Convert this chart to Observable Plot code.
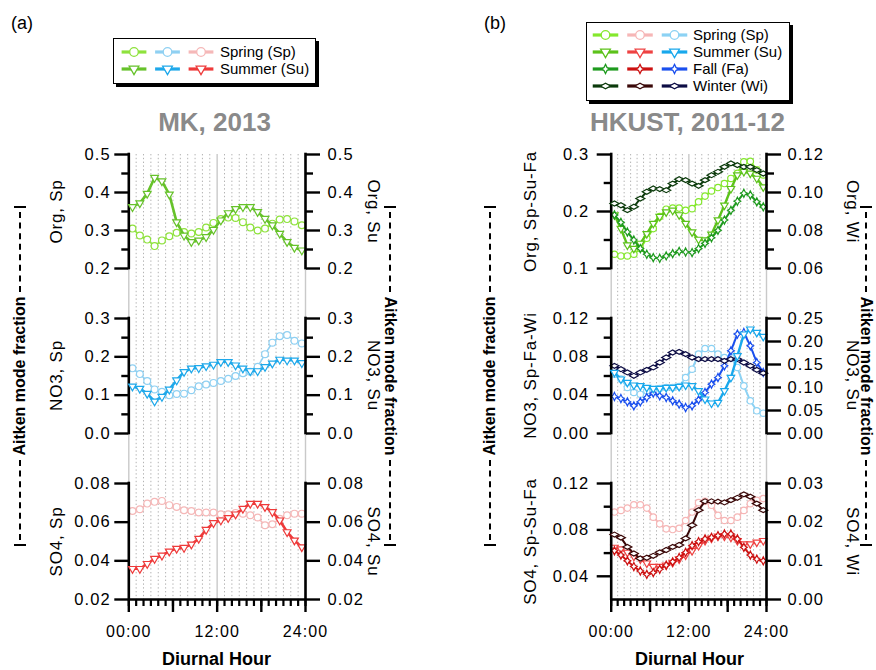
<!DOCTYPE html>
<html><head><meta charset="utf-8">
<script src="https://cdn.jsdelivr.net/npm/d3@7"></script>
<script src="https://cdn.jsdelivr.net/npm/@observablehq/plot@0.6"></script>
<style>
body{margin:0;background:#fff}
#root{position:relative;width:876px;height:670px;overflow:hidden;font-family:"Liberation Sans",Arial,Helvetica,sans-serif;color:#000;background:#fff}
.t{position:absolute;white-space:nowrap}
.legend{position:absolute;border:1.6px solid #000;box-shadow:3px 3px 0 #000;background:#fff;box-sizing:border-box}
.big{position:absolute;display:flex;align-items:center;font-weight:bold;font-size:16px;white-space:nowrap}
.big .bar{width:2px;height:12px;background:#000}
.big .dash{flex:1;border-top:2px dashed #000;margin:0 4px}
</style></head>
<body><div id="root"></div>
<script>
// ---------- data ----------
const hours = [0.5,1.5,2.5,3.5,4.5,5.5,6.5,7.5,8.5,9.5,10.5,11.5,12.5,13.5,14.5,15.5,16.5,17.5,18.5,19.5,20.5,21.5,22.5,23.5];
const hourTicks = [0,1,2,3,4,5,6,7,8,9,10,11,12,13,14,15,16,17,18,19,20,21,22,23,24];
const majorHourTicks = [0,6,12,18,24];
const solidGrid = [0,12,24];
const dottedGrid = [1,2,3,4,5,6,7,8,9,10,11,13,14,15,16,17,18,19,20,21,22,23];
const hourLabelTicks = [0,12,24];
const hourLabels = ["00:00","12:00","24:00"];
const seasonLabelsA = ["Spring (Sp)","Summer (Su)"];
const seasonLabelsB = ["Spring (Sp)","Summer (Su)","Fall (Fa)","Winter (Wi)"];

// Panel (a) MK 2013
const a_org_sp = [0.305,0.287,0.276,0.259,0.274,0.285,0.294,0.296,0.292,0.296,0.308,0.320,0.330,0.334,0.333,0.322,0.308,0.300,0.305,0.318,0.329,0.330,0.324,0.314];
const a_org_su = [0.362,0.372,0.397,0.439,0.430,0.395,0.322,0.287,0.270,0.274,0.283,0.302,0.327,0.346,0.357,0.362,0.362,0.349,0.331,0.314,0.292,0.270,0.255,0.248];
const a_no3_sp = [0.170,0.155,0.137,0.115,0.109,0.100,0.103,0.104,0.113,0.123,0.128,0.132,0.137,0.143,0.150,0.157,0.161,0.174,0.207,0.237,0.254,0.257,0.242,0.235];
const a_no3_su = [0.123,0.117,0.104,0.084,0.096,0.115,0.139,0.161,0.170,0.171,0.176,0.180,0.187,0.187,0.178,0.170,0.163,0.163,0.174,0.183,0.193,0.191,0.191,0.184];
const a_so4_sp = [0.0658,0.0667,0.0696,0.0705,0.0710,0.0688,0.0679,0.0662,0.0658,0.0650,0.0650,0.0650,0.0641,0.0641,0.0648,0.0644,0.0636,0.0624,0.0584,0.0589,0.0618,0.0636,0.0644,0.0644];
const a_so4_su = [0.0359,0.0359,0.0385,0.0411,0.0428,0.0449,0.0463,0.0468,0.0485,0.0515,0.0561,0.0596,0.0610,0.0622,0.0641,0.0670,0.0696,0.0696,0.0679,0.0653,0.0610,0.0549,0.0506,0.0471];

// Panel (b) HKUST 2011-12
const b_org_sp = [0.125,0.122,0.122,0.125,0.135,0.153,0.170,0.191,0.204,0.206,0.206,0.202,0.205,0.217,0.227,0.236,0.242,0.249,0.258,0.267,0.287,0.288,0.273,0.264];
const b_org_su = [0.194,0.170,0.141,0.135,0.144,0.161,0.179,0.191,0.199,0.202,0.194,0.179,0.164,0.151,0.150,0.160,0.185,0.211,0.240,0.264,0.270,0.267,0.258,0.243];
const b_org_fa = [0.194,0.181,0.164,0.150,0.135,0.125,0.119,0.118,0.122,0.126,0.130,0.129,0.128,0.135,0.144,0.154,0.167,0.185,0.202,0.218,0.232,0.229,0.217,0.208];
const b_org_wi = [0.0942,0.0933,0.0907,0.0925,0.0968,0.1004,0.1021,0.1018,0.1012,0.1047,0.1070,0.1065,0.1047,0.1035,0.1065,0.1091,0.1109,0.1135,0.1153,0.1144,0.1135,0.1135,0.1118,0.1100];
const b_no3_sp = [0.0619,0.0567,0.0480,0.0428,0.0410,0.0445,0.0456,0.0470,0.0480,0.0480,0.0490,0.0584,0.0671,0.0828,0.0887,0.0887,0.0828,0.0793,0.0793,0.0689,0.0497,0.0341,0.0237,0.0212];
const b_no3_su = [0.1326,0.1181,0.1109,0.1051,0.1036,0.1000,0.0978,0.0978,0.1000,0.1000,0.1022,0.1051,0.1036,0.0928,0.0746,0.0659,0.0674,0.0928,0.1217,0.1688,0.2159,0.2268,0.2196,0.2109];
const b_no3_fa = [0.0386,0.0365,0.0330,0.0289,0.0330,0.0376,0.0421,0.0393,0.0376,0.0341,0.0306,0.0271,0.0289,0.0351,0.0428,0.0515,0.0584,0.0706,0.0863,0.1037,0.1054,0.0915,0.0741,0.0637];
const b_no3_wi = [0.0706,0.0671,0.0637,0.0602,0.0637,0.0664,0.0689,0.0741,0.0793,0.0845,0.0852,0.0828,0.0793,0.0776,0.0776,0.0776,0.0776,0.0758,0.0776,0.0776,0.0741,0.0706,0.0664,0.0630];
const b_so4_sp = [0.0954,0.0968,0.0988,0.1017,0.1017,0.0988,0.0910,0.0852,0.0809,0.0803,0.0814,0.0881,0.0954,0.1035,0.1046,0.1012,0.0925,0.0881,0.0881,0.0910,0.0968,0.1026,0.1055,0.1070];
const b_so4_su = [0.0649,0.0635,0.0606,0.0571,0.0548,0.0513,0.0484,0.0484,0.0496,0.0519,0.0548,0.0583,0.0620,0.0664,0.0707,0.0728,0.0745,0.0745,0.0736,0.0707,0.0678,0.0678,0.0693,0.0707];
const b_so4_fa = [0.0620,0.0583,0.0533,0.0484,0.0446,0.0417,0.0432,0.0461,0.0496,0.0525,0.0562,0.0606,0.0664,0.0699,0.0722,0.0736,0.0751,0.0765,0.0765,0.0722,0.0649,0.0583,0.0548,0.0533];
const b_so4_wi = [0.0168,0.0160,0.0136,0.0119,0.0106,0.0108,0.0113,0.0122,0.0128,0.0136,0.0141,0.0158,0.0192,0.0231,0.0254,0.0254,0.0253,0.0251,0.0257,0.0263,0.0272,0.0266,0.0248,0.0231];

// ---------- styles ----------
const C = {
  aGreenSp:"#8ee23c", aGreenSu:"#66c22a", aBlueSp:"#8fd0f2", aBlueSu:"#1ea8ea", aRedSp:"#f5b8b8", aRedSu:"#ee3a3a",
  gSp:"#84e82c", gSu:"#5cc21a", gFa:"#1e9a1e", gWi:"#0b3a0b",
  rSp:"#f6b6b6", rSu:"#ee4242", rFa:"#cc1111", rWi:"#3a0808",
  bSp:"#8cd2f4", bSu:"#18a8ec", bFa:"#1a4fee", bWi:"#0c0c44"
};
const star4 = {draw(ctx, size){ const r=Math.sqrt(size/Math.PI); const v=1.45*r, h=1.2*r, k=0.48*r;
  ctx.moveTo(0,-v); ctx.lineTo(k,-k); ctx.lineTo(h,0); ctx.lineTo(k,k); ctx.lineTo(0,v); ctx.lineTo(-k,k); ctx.lineTo(-h,0); ctx.lineTo(-k,-k); ctx.closePath(); }};
const wideDiamond = {draw(ctx, size){ const r=Math.sqrt(size/Math.PI); const h=1.55*r, v=0.85*r;
  ctx.moveTo(-h,0); ctx.lineTo(0,-v); ctx.lineTo(h,0); ctx.lineTo(0,v); ctx.closePath(); }};
const SYM = {
  Sp:{symbol:"circle", r:3.4, rotate:0},
  Su:{symbol:"triangle", r:2.9, rotate:180},
  Fa:{symbol:star4, r:2.9, rotate:0},
  Wi:{symbol:wideDiamond, r:3.0, rotate:0}
};
const SYMB = {
  Sp:{symbol:"circle", r:3.2, rotate:0},
  Su:{symbol:"triangle", r:2.8, rotate:180},
  Fa:{symbol:star4, r:2.8, rotate:0},
  Wi:{symbol:wideDiamond, r:2.9, rotate:0}
};

const fmt1 = d3.format(".1f"), fmt2 = d3.format(".2f");
const panels = [
  { xl:128.3, xr:305, padL:4, padR:8, sym:SYM,
    subs:[
      {top:154, bottom:268,
        left:{domain:[0.2,0.5], major:[0.2,0.3,0.4,0.5], minor:[0.25,0.35,0.45], fmt:fmt1, series:[{vals:a_org_sp,color:C.aGreenSp,s:"Sp",lw:1.6}]},
        right:{domain:[0.2,0.5], major:[0.2,0.3,0.4,0.5], minor:[0.25,0.35,0.45], fmt:fmt1, series:[{vals:a_org_su,color:C.aGreenSu,s:"Su",lw:2.6}]}},
      {top:318, bottom:433,
        left:{domain:[0,0.3], major:[0,0.1,0.2,0.3], minor:[0.05,0.15,0.25], fmt:fmt1, series:[{vals:a_no3_sp,color:C.aBlueSp,s:"Sp",lw:1.6}]},
        right:{domain:[0,0.3], major:[0,0.1,0.2,0.3], minor:[0.05,0.15,0.25], fmt:fmt1, series:[{vals:a_no3_su,color:C.aBlueSu,s:"Su",lw:2.6}]}},
      {top:483, bottom:599,
        left:{domain:[0.02,0.08], major:[0.02,0.04,0.06,0.08], minor:[], fmt:fmt2, series:[{vals:a_so4_sp,color:C.aRedSp,s:"Sp",lw:1.6}]},
        right:{domain:[0.02,0.08], major:[0.02,0.04,0.06,0.08], minor:[], fmt:fmt2, series:[{vals:a_so4_su,color:C.aRedSu,s:"Su",lw:2.6}]}}
    ]},
  { xl:610.7, xr:766, padL:8, padR:7, sym:SYMB,
    subs:[
      {top:154, bottom:268,
        left:{domain:[0.1,0.3], major:[0.1,0.2,0.3], minor:[0.15,0.25], fmt:fmt1, series:[
          {vals:b_org_sp,color:C.gSp,s:"Sp",lw:2},{vals:b_org_su,color:C.gSu,s:"Su",lw:2.4},{vals:b_org_fa,color:C.gFa,s:"Fa",lw:2}]},
        right:{domain:[0.06,0.12], major:[0.06,0.08,0.10,0.12], minor:[0.07,0.09,0.11], fmt:fmt2, series:[{vals:b_org_wi,color:C.gWi,s:"Wi",lw:2}]}},
      {top:318, bottom:433,
        left:{domain:[0,0.12], major:[0,0.04,0.08,0.12], minor:[0.02,0.06,0.10], fmt:fmt2, series:[
          {vals:b_no3_sp,color:C.bSp,s:"Sp",lw:2},{vals:b_no3_fa,color:C.bFa,s:"Fa",lw:2},{vals:b_no3_wi,color:C.bWi,s:"Wi",lw:2}]},
        right:{domain:[0,0.25], major:[0,0.05,0.10,0.15,0.20,0.25], minor:[], fmt:fmt2, series:[{vals:b_no3_su,color:C.bSu,s:"Su",lw:2.4}]}},
      {top:483, bottom:599,
        left:{domain:[0.02,0.12], major:[0.04,0.08,0.12], minor:[0.06,0.10], fmt:fmt2, series:[
          {vals:b_so4_sp,color:C.rSp,s:"Sp",lw:2},{vals:b_so4_su,color:C.rSu,s:"Su",lw:2.4},{vals:b_so4_fa,color:C.rFa,s:"Fa",lw:2}]},
        right:{domain:[0,0.03], major:[0,0.01,0.02,0.03], minor:[], fmt:fmt2, series:[{vals:b_so4_wi,color:C.rWi,s:"Wi",lw:2}]}}
    ]}
];

const root = document.getElementById("root");
const baseStyle = {fontFamily:'"Liberation Sans",Arial,Helvetica,sans-serif', fontSize:"16.5px", letterSpacing:"1.1px", color:"#000", background:"transparent", overflow:"visible"};

function place(svg, top){ svg.style.position="absolute"; svg.style.left="0px"; svg.style.top=top+"px"; root.append(svg); }

function backPlot(p){
  const svg = Plot.plot({
    width:876, height:670, marginTop:154, marginBottom:71, marginLeft:p.xl, marginRight:876-p.xr,
    x:{domain:[0,24]}, y:{domain:[0,1], axis:null}, style:baseStyle,
    marks:[
      Plot.ruleX(dottedGrid, {stroke:"#b3b3b3", strokeWidth:1, strokeDasharray:"1.4,2.4"}),
      Plot.ruleX(solidGrid, {stroke:"#c9c9c9", strokeWidth:1.4}),
      Plot.axisX({ticks:hourTicks, tickSize:7, tickFormat:()=>"", strokeWidth:2.2, label:null}),
      Plot.axisX({ticks:majorHourTicks, tickSize:13, tickFormat:()=>"", strokeWidth:2.4, label:null}),
      Plot.axisX({ticks:hourLabelTicks, tickSize:0, tickPadding:26, tickFormat:d=>hourLabels[hourLabelTicks.indexOf(d)], label:null, fontSize:16}),
      Plot.ruleY([0], {strokeWidth:2.6})
    ]
  });
  place(svg, 0);
}

function sidePlot(p, sub, side){
  const ax = sub[side];
  const m = 16;
  const marks = [];
  for (const s of ax.series){
    const data = hours.map((h,i)=>({h, v:s.vals[i]}));
    const sy = p.sym[s.s];
    marks.push(Plot.line(data, {x:"h", y:"v", stroke:s.color, strokeWidth:s.lw, strokeLinejoin:"round"}));
    marks.push(Plot.dot(data, {x:"h", y:"v", symbol:sy.symbol, r:sy.r, rotate:sy.rotate, stroke:s.color, fill:"white", strokeWidth:1.2}));
  }
  marks.push(Plot.ruleX([side==="left"?0:24], {y1:ax.domain[0], y2:ax.domain[1], strokeWidth:2.6, strokeLinecap:"square"}));
  if (ax.minor.length) marks.push(Plot.axisY({anchor:side, ticks:ax.minor, tickSize:7, tickFormat:()=>"", strokeWidth:2.4, label:null}));
  marks.push(Plot.axisY({anchor:side, ticks:ax.major, tickSize:14, tickPadding: side==="left"?p.padL:p.padR, tickFormat:ax.fmt, strokeWidth:2.4, label:null, fontSize:16.5}));
  const svg = Plot.plot({
    width:876, height:(sub.bottom-sub.top)+2*m, marginTop:m, marginBottom:m, marginLeft:p.xl, marginRight:876-p.xr,
    x:{domain:[0,24], axis:null}, y:{domain:ax.domain}, style:baseStyle, marks
  });
  place(svg, sub.top-m);
}

for (const p of panels){
  backPlot(p);
  for (const sub of p.subs){ sidePlot(p, sub, "left"); sidePlot(p, sub, "right"); }
}

// ---------- text helpers ----------
function text(str, x, baseline, fs, opts={}){
  const d = document.createElement("div");
  d.className = "t"; d.textContent = str;
  d.style.fontSize = fs+"px"; d.style.lineHeight = fs+"px";
  d.style.top = (baseline - 0.8465*fs)+"px";
  if (opts.anchor==="middle"){ d.style.left=(x-300)+"px"; d.style.width="600px"; d.style.textAlign="center"; }
  else d.style.left = x+"px";
  if (opts.bold) d.style.fontWeight="bold";
  if (opts.color) d.style.color = opts.color;
  root.append(d); return d;
}
function rotText(str, cx, cy, fs, deg){
  const d = document.createElement("div");
  d.className="t"; d.textContent=str;
  d.style.fontSize=fs+"px"; d.style.lineHeight=fs+"px"; d.style.letterSpacing="0.8px";
  d.style.width="300px"; d.style.textAlign="center";
  d.style.left=(cx-150)+"px"; d.style.top=(cy-fs/2)+"px";
  d.style.transform=`rotate(${deg}deg)`;
  root.append(d);
}
function bigLabel(cx, cy, len, deg){
  const d = document.createElement("div");
  d.className="big";
  d.style.width=len+"px"; d.style.height="16px";
  d.style.left=(cx-len/2)+"px"; d.style.top=(cy-8)+"px";
  d.style.transform=`rotate(${deg}deg)`;
  d.innerHTML = '<span class="bar"></span><span class="dash"></span><span class="lbl"></span><span class="dash"></span><span class="bar"></span>';
  d.querySelector(".lbl").textContent = "Aitken mode fraction";
  root.append(d);
}

text("(a)", 11, 29.5, 18);
text("(b)", 484, 29.5, 18);
text("MK, 2013", 214.5, 131, 26, {anchor:"middle", bold:true, color:"#8a8a8a"});
text("HKUST, 2011-12", 687.5, 131, 26, {anchor:"middle", bold:true, color:"#8a8a8a"});
text("Diurnal Hour", 216.5, 665, 18, {anchor:"middle", bold:true});
text("Diurnal Hour", 689.5, 665, 18, {anchor:"middle", bold:true});

const bandsY = [211, 375.5, 541];
const subLabA_L = ["Org, Sp","NO3, Sp","SO4, Sp"];
const subLabA_R = ["Org, Su","NO3, Su","SO4, Su"];
const subLabB_L = ["Org, Sp-Su-Fa","NO3, Sp-Fa-Wi","SO4, Sp-Su-Fa"];
const subLabB_R = ["Org, Wi","NO3, Su","SO4, Wi"];
bandsY.forEach((y,i)=>{
  rotText(subLabA_L[i], 56, y, 17, -90);
  rotText(subLabA_R[i], 373, y, 17, 90);
  rotText(subLabB_L[i], 530, y, 17, -90);
  rotText(subLabB_R[i], 852, y, 17, 90);
});
bigLabel(20, 376, 340, -90);
bigLabel(390, 376, 340, 90);
bigLabel(490, 376, 340, -90);
bigLabel(866, 376, 340, 90);

// ---------- legends ----------
function legend(box, cols, rows, colors, syms, labels, textX){
  const div = document.createElement("div");
  div.className="legend";
  Object.assign(div.style, {left:box.left+"px", top:box.top+"px", width:box.w+"px", height:box.h+"px"});
  root.append(div);
  const data = [];
  rows.forEach((rowKey, ri)=>cols.forEach((_, ci)=>data.push({c:ci, r:ri, color:colors[ri][ci], s:rowKey})));
  const marks = [
    Plot.link(data, {x1:d=>d.c-0.37, x2:d=>d.c+0.37, y1:"r", y2:"r", stroke:"color", strokeWidth:3.2})
  ];
  for (const key of rows){
    const sy = syms[key];
    marks.push(Plot.dot(data.filter(d=>d.s===key), {x:"c", y:"r", symbol:sy.symbol, r:sy.r, rotate:sy.rotate, stroke:"color", fill:"white", strokeWidth:1.3}));
  }
  const svg = Plot.plot({
    width:110, height:box.h-3, margin:0,
    x:{domain:[0,cols.length-1], range:box.xr, axis:null},
    y:{domain:[0,rows.length-1], range:box.yr, axis:null},
    color:{type:"identity"}, style:{background:"transparent", overflow:"visible"}, marks
  });
  svg.style.position="absolute"; svg.style.left="0px"; svg.style.top="0px";
  div.append(svg);
  labels.forEach((lab,i)=>{
    const t = document.createElement("div");
    t.className="t"; t.textContent=lab;
    t.style.fontSize="15px"; t.style.lineHeight="15px";
    t.style.left=textX+"px"; t.style.top=(box.yr[0] + i*(box.yr[1]-box.yr[0])/Math.max(1,rows.length-1) - 7.5)+"px";
    div.append(t);
  });
}
legend({left:113, top:38, w:203, h:46, xr:[19.5,86.5], yr:[12.5,29.5]}, [0,1,2], ["Sp","Su"],
  [[C.aGreenSp,C.aBlueSp,C.aRedSp],[C.aGreenSu,C.aBlueSu,C.aRedSu]],
  {Sp:{symbol:"circle",r:4.3,rotate:0}, Su:{symbol:"triangle",r:3.6,rotate:180}}, seasonLabelsA, 106);
legend({left:586, top:22, w:204, h:79, xr:[18,87], yr:[11.5,62.5]}, [0,1,2], ["Sp","Su","Fa","Wi"],
  [[C.gSp,C.rSp,C.bSp],[C.gSu,C.rSu,C.bSu],[C.gFa,C.rFa,C.bFa],[C.gWi,C.rWi,C.bWi]],
  {Sp:{symbol:"circle",r:4.3,rotate:0}, Su:{symbol:"triangle",r:3.6,rotate:180}, Fa:{symbol:star4,r:3.2,rotate:0}, Wi:{symbol:wideDiamond,r:3.3,rotate:0}},
  seasonLabelsB, 106);
</script></body></html>
